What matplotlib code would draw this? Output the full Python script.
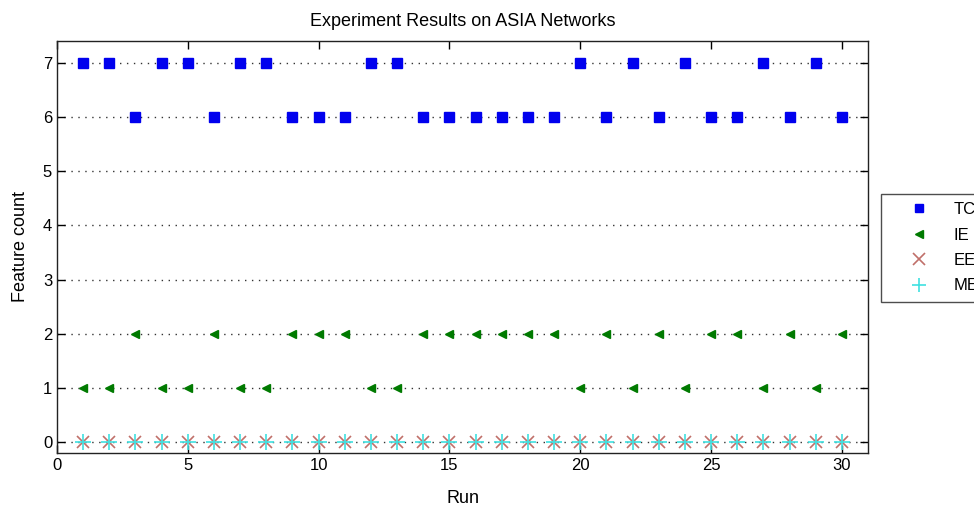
import matplotlib
matplotlib.use("Agg")
import matplotlib.pyplot as plt
import numpy as np

runs = list(range(1, 31))
tc = [7, 7, 6, 7, 7, 6, 7, 7, 6, 6, 6, 7, 7, 6, 6, 6, 6, 6, 6, 7, 6, 7, 6, 7, 6, 6, 7, 6, 7, 6]
ie = [1, 1, 2, 1, 1, 2, 1, 1, 2, 2, 2, 1, 1, 2, 2, 2, 2, 2, 2, 1, 2, 1, 2, 1, 2, 2, 1, 2, 1, 2]
ee = [0] * 30
me = [0] * 30
yticks = [0, 1, 2, 3, 4, 5, 6, 7]
xticks = [0, 5, 10, 15, 20, 25, 30]

plt.rcParams['font.family'] = ['Liberation Sans', 'DejaVu Sans']

fig = plt.figure(figsize=(9.74, 5.07), dpi=100)
ax = fig.add_axes([57/974, 1 - 453/507, (868-57)/974, (453-41)/507])

ax.plot(runs, tc, 's', color='#0000ee', markersize=6.5, label='TC', zorder=3)
ax.plot(runs, ie, '<', color='#007a00', markersize=6, label='IE', zorder=3)
ax.plot(runs, ee, 'x', color='#c0706a', markersize=9, markeredgewidth=1.2, label='EE', zorder=3)
ax.plot(runs, me, '+', color='#40e0e0', markersize=11, markeredgewidth=1.2, label='ME', zorder=4)

ax.set_xlim(0, 31)
ax.set_ylim(-0.2, 7.4)
ax.set_xticks(xticks)
ax.set_yticks(yticks)
ax.yaxis.grid(True, linestyle=(0, (1, 4)), color='#333333', linewidth=1.0)
ax.set_axisbelow(True)
ax.tick_params(direction='in', top=True, right=True, labelsize=12, length=6, width=1)
for s in ax.spines.values():
    s.set_linewidth(1.0)
    s.set_color('#222222')

ax.set_title('Experiment Results on ASIA Networks', fontsize=13, pad=11)
ax.set_xlabel('Run', fontsize=13, labelpad=12)
ax.set_ylabel('Feature count', fontsize=13, labelpad=10)

leg = fig.legend(loc='upper left', bbox_to_anchor=(881/974, 1 - 194/507),
                 borderaxespad=0,
                 frameon=True, fancybox=False, edgecolor='#222222',
                 fontsize=12, handlelength=3.6, handletextpad=0.25,
                 borderpad=0.5, labelspacing=0.62, markerscale=0.9)
leg.get_frame().set_linewidth(1.0)

fig.savefig('out.png', dpi=100)
